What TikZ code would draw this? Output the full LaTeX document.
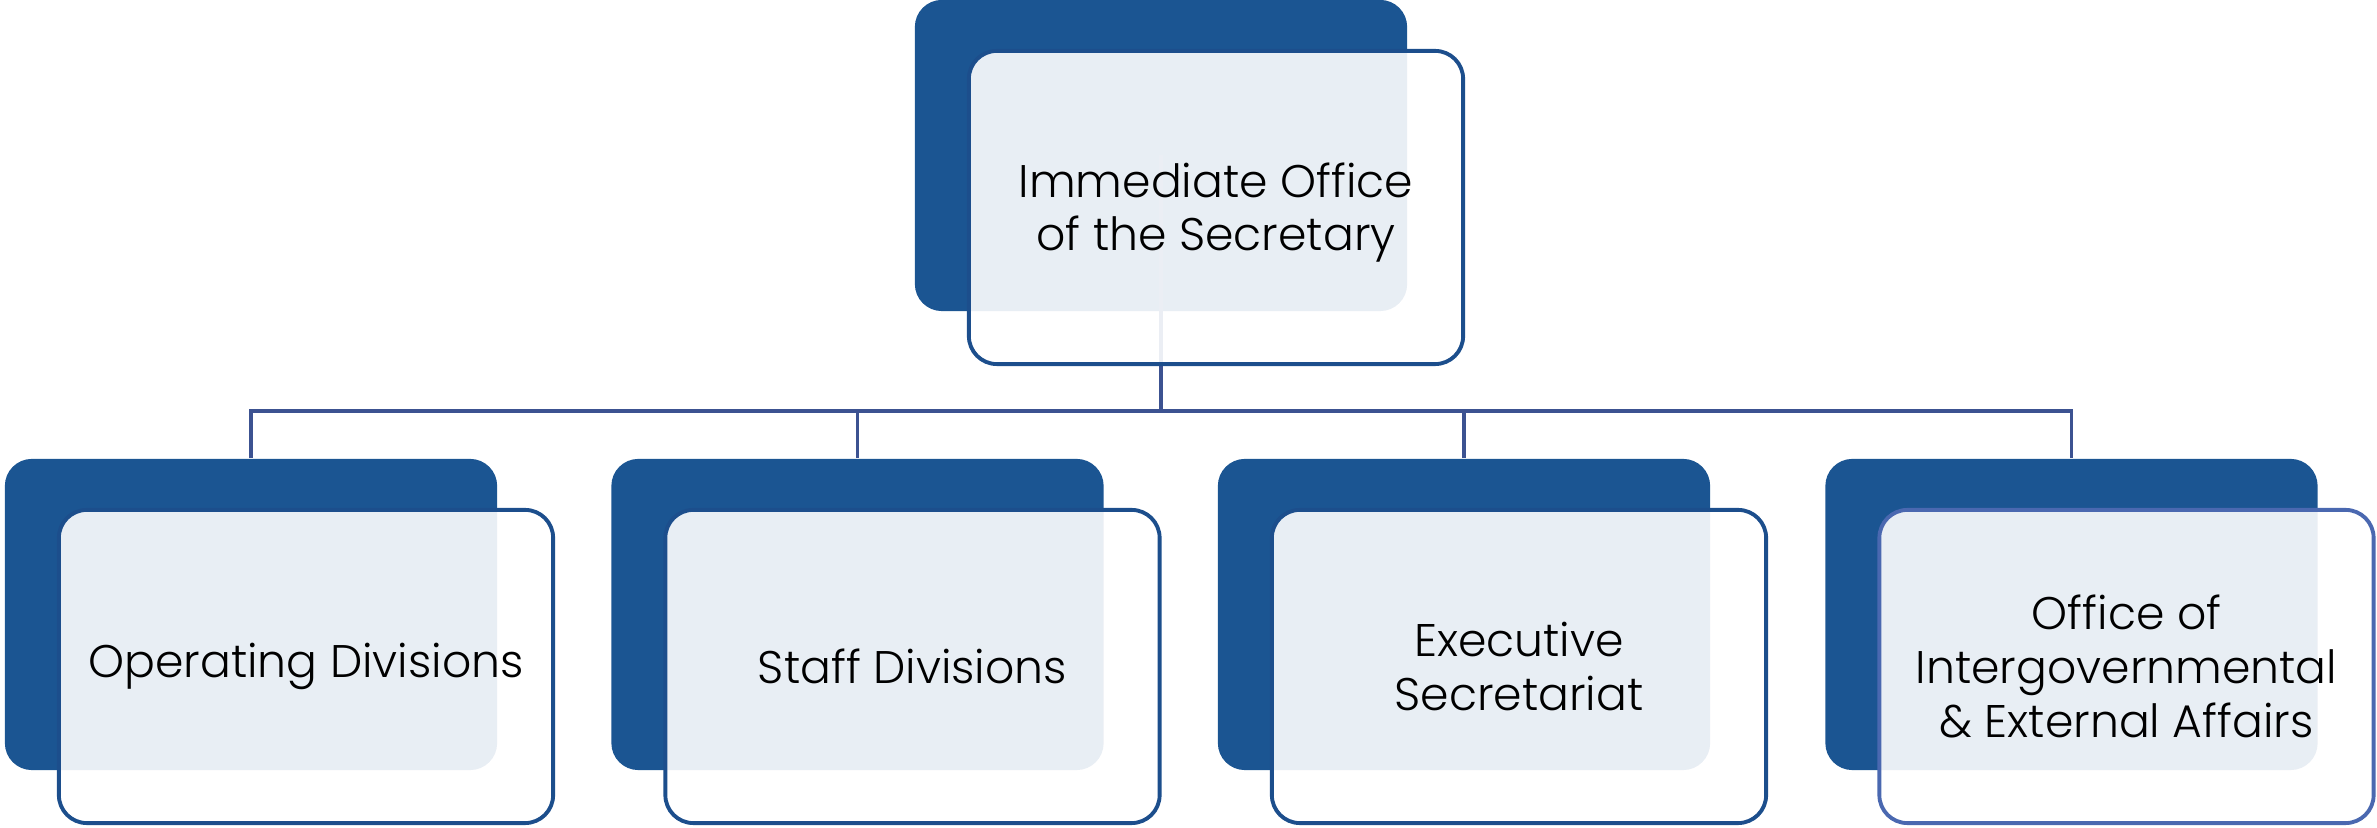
\documentclass[tikz,border=0pt]{standalone}
\usepackage{fontspec}
\setmainfont{Poppins Light}
\usepackage{tikz}
\usetikzlibrary{positioning,calc}
\definecolor{orgdark}{RGB}{27,85,146}
\definecolor{orgframe}{RGB}{28,78,140}
\definecolor{orgframealt}{RGB}{74,104,176}
\definecolor{orgline}{RGB}{60,82,145}
\tikzset{
  backbox/.style={fill=orgdark, rounded corners=0.27cm, minimum width=4.92cm, minimum height=3.11cm, inner sep=0pt},
  frontbox/.style={draw=orgframe, line width=1.1pt, fill=white, fill opacity=0.9, rounded corners=0.28cm, minimum width=4.94cm, minimum height=3.13cm, inner sep=0pt},
  boxtext/.style={align=center, font=\fontsize{13}{15.3}\selectfont, text=black},
  orgconn/.style={draw=orgline, line width=1.1pt}
}

\begin{document}
\begin{tikzpicture}[x=0.01cm,y=-0.01cm]
\useasboundingbox (0,0) rectangle (2377,828);
\coordinate (bus) at (0,411);
% back boxes
\node[backbox] (d0) at (1161,155.5) {};
\node[backbox] (d1) at (251,614.5) {};
\node[backbox] (d2) at (857.5,614.5) {};
\node[backbox] (d3) at (1464,614.5) {};
\node[backbox] (d4) at (2071.5,614.5) {};
% connectors
\draw[orgconn] (d0.center) -- (d0 |- bus);
\draw[orgconn] (d1.north) |- (d4 |- bus) -- (d4.north);
\draw[orgconn] (d2.north) -- (d2 |- bus);
\draw[orgconn] (d3.north) -- (d3 |- bus);
% front boxes
\node[frontbox] (w0) at ($(d0)+(55,52)$) {};
\node[frontbox] (w1) at ($(d1)+(55,52)$) {};
\node[frontbox] (w2) at ($(d2)+(55,52)$) {};
\node[frontbox] (w3) at ($(d3)+(55,52)$) {};
\node[frontbox, draw=orgframealt] (w4) at ($(d4)+(55,52)$) {};
% labels
\node[boxtext] (t0) at ($(w0)+(0,5)$) {Immediate Office\\of the Secretary};
\node[boxtext] (t1) at (w1) {Operating Divisions};
\node[boxtext] (t2) at (w2) {Staff Divisions};
\node[boxtext] (t3) at (w3) {Executive\\Secretariat};
\node[boxtext] (t4) at (w4) {Office of\\Intergovernmental\\\& External Affairs};
\end{tikzpicture}
\end{document}
